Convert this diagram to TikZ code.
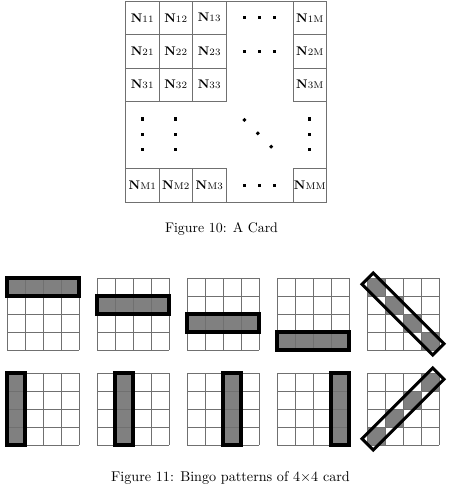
\documentclass[tikz,border=0pt]{standalone}
\usepackage{xcolor}
\usepackage{tikz}
\usetikzlibrary{positioning}
\definecolor{cardline}{HTML}{707070}
\definecolor{markgray}{HTML}{808080}

\begin{document}
\begin{tikzpicture}[x=0.72pt, y=-0.72pt,
    cell/.style={draw=cardline, line width=0.72pt, minimum size=24.12pt,
                 inner sep=0pt, outer sep=0pt},
    frame/.style={draw=cardline, line width=0.72pt},
    gridline/.style={draw=cardline, line width=0.72pt},
    hit/.style={fill=markgray},
    hitbox/.style={draw=black, line width=2.2pt},
    diagbox/.style={draw=black, line width=2.2pt, minimum width=72pt,
                    minimum height=11.5pt, inner sep=0pt},
    caption/.style={inner sep=0pt, font=\normalsize},
]
    \useasboundingbox (0,0) rectangle (449,491);

    % the card
    \begin{scope}[shift={(125.5,1)}, scale=33.5]
        \foreach \c/\cn in {0/1, 1/2, 2/3, 5/M}
            \foreach \r/\rn in {0/1, 1/2, 2/3, 5/M}
                \node[cell] (n\rn\cn) at (\c+0.5, \r+0.5)
                    {{\fontsize{9}{10}\selectfont\bfseries N}{\fontsize{7}{8}\selectfont\rn\cn}};
        \draw[frame] (0,0) rectangle (6,6);
        \foreach \y in {0.5, 1.5, 5.5}
            \foreach \x in {3.55, 4, 4.45}
                \fill (\x-0.05, \y-0.05) rectangle ++(0.1,0.1);
        \foreach \x in {0.5, 1.5, 5.5}
            \foreach \y in {3.52, 3.98, 4.44}
                \fill (\x-0.05, \y-0.05) rectangle ++(0.1,0.1);
        \foreach \d in {3.55, 3.95, 4.35}
            \fill (\d-0.06, \d) -- (\d, \d-0.06) -- (\d+0.06, \d) -- (\d, \d+0.06) -- cycle;
    \end{scope}
    \node[caption] (cap10) at (221.5,229) {Figure 10: A Card};

    % rows and diagonal
    \foreach \k in {0,...,3} {
        \begin{scope}[shift={(7+90*\k,278)}, scale=18]
            \fill[hit] (0,\k) rectangle (4,\k+1);
            \foreach \i in {0,...,4} {
                \draw[gridline] (\i,0) -- (\i,4);
                \draw[gridline] (0,\i) -- (4,\i);
            }
            \draw[hitbox] (0,\k) rectangle (4,\k+1);
        \end{scope}
    }
    \begin{scope}[shift={(367,278)}, scale=18]
        \foreach \i in {0,...,3}
            \fill[hit] (\i,\i) rectangle (\i+1,\i+1);
        \foreach \i in {0,...,4} {
            \draw[gridline] (\i,0) -- (\i,4);
            \draw[gridline] (0,\i) -- (4,\i);
        }
        \node[diagbox, rotate=-45] (diag) at (2,2) {};
    \end{scope}

    % columns and anti-diagonal
    \foreach \k in {0,...,3} {
        \begin{scope}[shift={(7+90*\k,373)}, scale=18]
            \fill[hit] (\k,0) rectangle (\k+1,4);
            \foreach \i in {0,...,4} {
                \draw[gridline] (\i,0) -- (\i,4);
                \draw[gridline] (0,\i) -- (4,\i);
            }
            \draw[hitbox] (\k,0) rectangle (\k+1,4);
        \end{scope}
    }
    \begin{scope}[shift={(367,373)}, scale=18]
        \foreach \i in {0,...,3}
            \fill[hit] (\i,3-\i) rectangle (\i+1,4-\i);
        \foreach \i in {0,...,4} {
            \draw[gridline] (\i,0) -- (\i,4);
            \draw[gridline] (0,\i) -- (4,\i);
        }
        \node[diagbox, rotate=45] (antidiag) at (2,2) {};
    \end{scope}
    \node[caption, scale=1.02] (cap11) at (230.5,478) {Figure 11: Bingo patterns of 4$\times$4 card};
\end{tikzpicture}
\end{document}
